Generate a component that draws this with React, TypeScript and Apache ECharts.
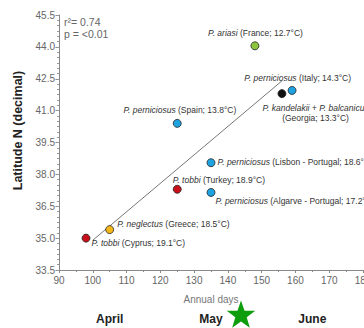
import React, { useEffect, useRef } from "react";
import * as echarts from "echarts";

// ---- data ----
const species = [
  "P. ariasi",
  "P. kandelakii + P. balcanicus",
  "P. perniciosus",
  "P. perniciosus",
  "P. perniciosus",
  "P. tobbi",
  "P. perniciosus",
  "P. neglectus",
  "P. tobbi",
];
const sites = [
  "France; 12.7°C",
  "Georgia; 13.3°C",
  "Italy; 14.3°C",
  "Spain; 13.8°C",
  "Lisbon - Portugal; 18.6°C",
  "Turkey; 18.9°C",
  "Algarve - Portugal; 17.2°C",
  "Greece; 18.5°C",
  "Cyprus; 19.1°C",
];
const groups = [
  "ariasi",
  "kandelakii",
  "perniciosus",
  "perniciosus",
  "perniciosus",
  "tobbi",
  "perniciosus",
  "neglectus",
  "tobbi",
];
const annualDays = [148, 156, 159, 125, 135, 125, 135, 105, 98];
const latitudes = [44.05, 41.8, 41.95, 40.4, 38.55, 37.3, 37.15, 35.4, 35.0];

const trendDays = [100, 156];
const trendLat = [34.9, 42.4];

const yTicks = [33.5, 35.0, 36.5, 38.0, 39.5, 41.0, 42.5, 44.0, 45.5];
const monthNames = ["April", "May", "June"];
const monthDays = [105, 135, 165];
const statsText = ["r²= 0.74", "p = <0.01"];

// ---- styles ----
const groupColors: Record<string, string> = {
  ariasi: "#8cc63f",
  kandelakii: "#111111",
  perniciosus: "#1fa3e0",
  tobbi: "#c8101a",
  neglectus: "#f5b81c",
};

const SYMBOL = 8;
// label anchor relative to the point centre (px), with alignment
const labelLayout: any[] = [
  { dx: 1, dy: -7.5, align: "center", va: "bottom" },
  { dx: 34, dy: 9.5, align: "center", va: "top", wrap: true },
  { dx: 6, dy: -7, align: "center", va: "bottom" },
  { dx: 3, dy: -8, align: "center", va: "bottom" },
  { dx: 7, dy: 0, align: "left", va: "middle" },
  { dx: -4, dy: -9, align: "left", va: "middle" },
  { dx: 5, dy: 9, align: "left", va: "middle" },
  { dx: 8, dy: -5, align: "left", va: "middle" },
  { dx: 6, dy: 5.5, align: "left", va: "middle" },
];

const FONT = "'Liberation Sans', Arial, sans-serif";

function starPoints(cx: number, cy: number, R: number, r: number) {
  const pts: number[][] = [];
  for (let i = 0; i < 10; i++) {
    const a = -Math.PI / 2 + (i * Math.PI) / 5;
    const rad = i % 2 === 0 ? R : r;
    pts.push([cx + rad * Math.cos(a), cy + rad * Math.sin(a)]);
  }
  return pts;
}

export default function App() {
  const ref = useRef<HTMLDivElement>(null);

  useEffect(() => {
    if (!ref.current) return;
    const chart = echarts.init(ref.current, null, { renderer: "svg" });

    const scatterData = annualDays.map((d, i) => {
      const lay = labelLayout[i];
      const text = lay.wrap
        ? `{i|${species[i]}}\n{n|(${sites[i]})}`
        : `{i|${species[i]}}{n| (${sites[i]})}`;
      return {
        value: [d, latitudes[i]],
        itemStyle: { color: groupColors[groups[i]] },
        label: {
          show: true,
          position: [SYMBOL / 2 + lay.dx, SYMBOL / 2 + lay.dy],
          align: lay.align,
          verticalAlign: lay.va,
          formatter: text,
        },
      };
    });

    const option: any = {
      animation: false,
      backgroundColor: "#ffffff",
      grid: {
        left: 59,
        right: 1,
        top: 15,
        bottom: 58,
        containLabel: false,
        outerBoundsMode: "none",
      },
      xAxis: [
        {
          type: "value",
          min: 90,
          max: 180,
          interval: 10,
          name: "Annual days",
          nameLocation: "middle",
          nameGap: 24,
          nameTextStyle: { color: "#777", fontSize: 10, fontFamily: FONT },
          axisLine: { show: true, lineStyle: { color: "#888", width: 1 } },
          axisTick: { show: true, length: 3, lineStyle: { color: "#888" } },
          minorTick: { show: true, splitNumber: 2, length: 2, lineStyle: { color: "#888" } },
          axisLabel: { color: "#666", fontSize: 10, margin: 5, fontFamily: FONT },
          splitLine: { show: false },
        },
        {
          type: "value",
          min: 90,
          max: 180,
          position: "bottom",
          axisLine: { show: false },
          axisTick: { show: false },
          splitLine: { show: false },
          axisLabel: {
            customValues: monthDays,
            margin: 43,
            color: "#222",
            fontSize: 12,
            fontWeight: "bold",
            fontFamily: FONT,
            formatter: (v: number) => {
              const k = monthDays.indexOf(v);
              return k >= 0 ? monthNames[k] : "";
            },
          },
        },
      ],
      yAxis: [
        {
          type: "value",
          min: 33.5,
          max: 45.5,
          interval: 0.25,
          name: "Latitude N (decimal)",
          nameLocation: "middle",
          nameGap: 27,
          nameTextStyle: {
            color: "#222",
            fontSize: 12.5,
            fontWeight: "bold",
            fontFamily: FONT,
            padding: [0, 0, 0, 24],
          },
          axisLine: { show: true, lineStyle: { color: "#888", width: 1 } },
          axisTick: { show: true, length: 3.5, customValues: yTicks, lineStyle: { color: "#888" } },
          axisLabel: {
            customValues: yTicks,
            color: "#666",
            fontSize: 10,
            margin: 4,
            fontFamily: FONT,
            formatter: (v: number) => v.toFixed(1),
          },
          splitLine: { show: false },
        },
        {
          type: "value",
          min: 33.5,
          max: 45.5,
          interval: 0.25,
          position: "left",
          axisLine: { show: false },
          axisTick: { show: true, length: 2, lineStyle: { color: "#999" } },
          axisLabel: { show: false },
          splitLine: { show: false },
        },
      ],
      series: [
        {
          type: "line",
          data: trendDays.map((d, i) => [d, trendLat[i]]),
          symbol: "none",
          lineStyle: { color: "#777", width: 1 },
          z: 1,
          silent: true,
        },
        {
          type: "scatter",
          data: scatterData,
          symbol: "circle",
          symbolSize: SYMBOL,
          itemStyle: { borderColor: "#222", borderWidth: 0.8, opacity: 1 },
          label: {
            color: "#333",
            fontFamily: FONT,
            rich: {
              i: { fontStyle: "italic", fontSize: 8.5, color: "#333", lineHeight: 10, fontFamily: FONT },
              n: { fontSize: 8.5, color: "#333", lineHeight: 10, fontFamily: FONT },
            },
          },
          labelLayout: { hideOverlap: false },
          z: 3,
        },
      ],
      graphic: [
        {
          type: "text",
          left: 64,
          top: 16,
          style: { text: statsText[0], fill: "#666", fontSize: 10.5, fontFamily: FONT },
        },
        {
          type: "text",
          left: 64,
          top: 28,
          style: { text: statsText[1], fill: "#666", fontSize: 10.5, fontFamily: FONT },
        },
        {
          type: "polygon",
          shape: { points: starPoints(241, 315.5, 15, 6) },
          style: { fill: "#0d9d0d" },
        },
      ],
    };

    chart.setOption(option);
    return () => chart.dispose();
  }, []);

  return (
    <div
      ref={ref}
      style={{ position: "fixed", left: 0, top: 0, width: 364, height: 328 }}
    />
  );
}
